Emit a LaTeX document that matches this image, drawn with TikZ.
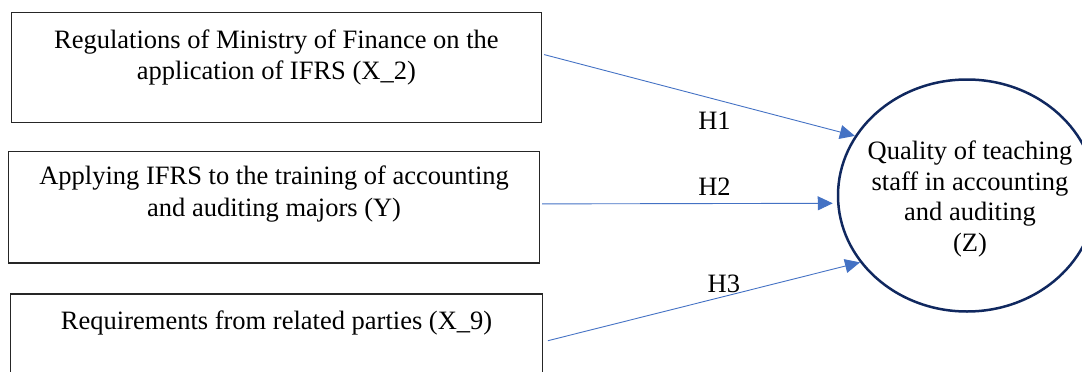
\documentclass[tikz,border=0pt]{standalone}
\usepackage{fontspec}
\setmainfont{Liberation Serif}
\usetikzlibrary{arrows.meta,shapes.geometric,calc}
\definecolor{arrowblue}{HTML}{4472C4}
\definecolor{navy}{HTML}{10285F}
\begin{document}
\begin{tikzpicture}[x=1pt,y=-1pt,
  box/.style={draw=black!85, line width=1.2pt, rectangle, inner sep=0pt, anchor=north west},
  boxtext/.style={font=\fontsize{26.5}{31.5}\selectfont, align=center, anchor=base, inner sep=0pt},
  conn/.style={draw=arrowblue, line width=0.9pt, -{Triangle[length=15pt,width=14pt]}},
  hlabel/.style={font=\fontsize{26.5}{30.5}\selectfont, inner sep=0pt},
  target/.style={draw=navy, line width=2.5pt, ellipse, inner sep=0pt, minimum width=258pt, minimum height=232pt},
  targettext/.style={font=\fontsize{26.5}{30.5}\selectfont, align=center, anchor=base, inner sep=0pt}
]
\useasboundingbox (0,0) rectangle (1082,372);
\clip (0,0) rectangle (1082,372);

\node[box, minimum width=530.5pt, minimum height=110pt] (b1) at (10.5,12) {};
\node[boxtext] (t1) at ([yshift=-67.5pt]b1.north) {Regulations of Ministry of Finance on the\\application of IFRS (X\_2)};

\node[box, minimum width=531pt, minimum height=111.6pt] (b2) at (8,150.7) {};
\node[boxtext] (t2) at ([yshift=-65.3pt]b2.north) {Applying IFRS to the training of accounting\\and auditing majors (Y)};

\node[box, minimum width=532pt, minimum height=110.5pt] (b3) at (10,293.3) {};
\node[boxtext] (t3) at ([yshift=-36pt]b3.north) {Requirements from related parties (X\_9)};

\node[target] (z) at (967,195.5) {};
\node[targettext] (zt) at ([xshift=3pt,yshift=-55.5pt]z.center) {Quality of teaching\\staff in accounting\\and auditing\\(Z)};

\draw[conn] ([xshift=2pt,yshift=13pt]b1.east) -- (z.152)
  node[hlabel, pos=0.548, yshift=-21.6pt] (h1) {H1};
\draw[conn] ([xshift=2pt,yshift=3.2pt]b2.east) -- ([xshift=-4pt,yshift=-7.8pt]z.west)
  node[hlabel, pos=0.593, yshift=17.3pt] (h2) {H2};
\draw[conn] ([xshift=4.7pt,yshift=-47.4pt]b3.north east) -- (z.212)
  node[hlabel, pos=0.564, yshift=12.8pt] (h3) {H3};
\end{tikzpicture}
\end{document}
